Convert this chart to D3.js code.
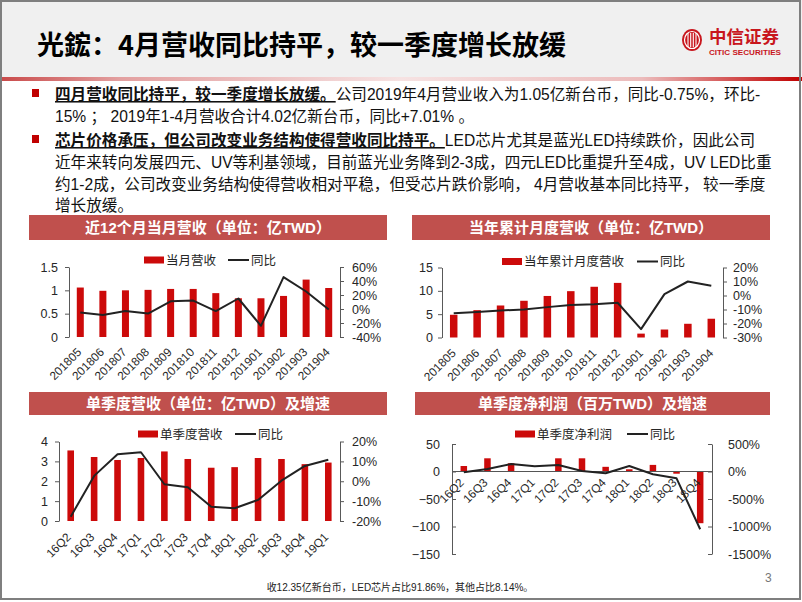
<!DOCTYPE html>
<html><head><meta charset="utf-8">
<script src="https://cdn.jsdelivr.net/npm/d3@7"></script>
<style>
body{margin:0;background:#fff}
svg{display:block}
text{font-family:"Liberation Sans",Arial,"Noto Sans CJK SC",sans-serif}
</style>
</head><body>
<svg id="c" width="802" height="602"></svg>
<script>
// ---------------- DATA ----------------
const monthCats = ["201805","201806","201807","201808","201809","201810","201811","201812","201901","201902","201903","201904"];
const monthRevenue = [1.06,0.99,1.00,1.01,1.03,1.03,0.94,0.83,0.83,0.88,1.23,1.05];
const monthYoY = [-5,-8.5,-3,-6.5,11,12,-3,15,-24,45.5,25,-0.75];

const cumRevenue = [4.87,5.86,6.86,7.87,8.90,9.93,10.87,11.70,0.83,1.71,2.94,4.02];
const cumYoY = [-12.6,-11.7,-10.7,-10,-8.3,-6.7,-6.2,-5.2,-24,1,10,7.01];

const quarterCats = ["16Q2","16Q3","16Q4","17Q1","17Q2","17Q3","17Q4","18Q1","18Q2","18Q3","18Q4","19Q1"];
const quarterRevenue = [3.55,3.22,3.07,3.17,3.50,3.12,2.68,2.71,3.17,3.12,2.86,2.94];
const quarterYoY = [-17.8,2.7,13.6,14.6,-1.5,-3,-12.8,-13.6,-9.4,0.3,7.7,10.8];

const profitCats = ["16Q2","16Q3","16Q4","17Q1","17Q2","17Q3","17Q4","18Q1","18Q2","18Q3","18Q4"];
const quarterProfit = [10,24,15,0.5,24,24,8.5,4,12,-4,-94];
const profitYoY = [-15,45,136,95,118,9,-33,100,-51,-124,-1050];

const c1LeftTicks = [0,0.5,1,1.5], c1RightTicks = [-40,-20,0,20,40,60];
const c2LeftTicks = [0,5,10,15], c2RightTicks = [-30,-20,-10,0,10,20];
const c3LeftTicks = [0,1,2,3,4], c3RightTicks = [-20,-10,0,10,20];
const c4LeftTicks = [-150,-100,-50,0,50], c4RightTicks = [-1500,-1000,-500,0,500];

// ---------------- STYLE ----------------
const RED = "#cc0a0a", TITLEBAR = "#c0504d", LINEC = "#222", AXISC = "#595959", TXT = "#262626";

const svg = d3.select("#c");
const defs = svg.append("defs");

// slide background / header
const hg = defs.append("linearGradient").attr("id","hline");
[[0,"#c94a4a"],[0.15,"#e3a0a0"],[0.5,"#f6e2e2"],[0.8,"#ecbcbc"],[1,"#c00000"]]
  .forEach(s=>hg.append("stop").attr("offset",s[0]).attr("stop-color",s[1]));
svg.append("rect").attr("x",0).attr("y",0).attr("width",802).attr("height",77).attr("fill","#f0f0f0");
svg.append("rect").attr("x",0).attr("y",77).attr("width",802).attr("height",4).attr("fill","url(#hline)");

svg.append("text").attr("x",37).attr("y",55).attr("font-size",27).attr("font-weight","bold")
  .attr("fill","#000").style("font-family","'Noto Sans CJK SC','Liberation Sans',sans-serif")
  .text("光鋐：4月营收同比持平，较一季度增长放缓");

// logo
const logo = svg.append("g");
logo.append("ellipse").attr("cx",692).attr("cy",40).attr("rx",10).attr("ry",11).attr("fill","#c8161d");
logo.append("ellipse").attr("cx",692).attr("cy",40).attr("rx",7.5).attr("ry",8.5).attr("fill","none").attr("stroke","#fff").attr("stroke-width",1.2);
[-4,-1.3,1.3,4].forEach(dx=>logo.append("line").attr("x1",692+dx).attr("x2",692+dx).attr("y1",33).attr("y2",47).attr("stroke","#fff").attr("stroke-width",1.1));
logo.append("text").attr("x",709).attr("y",43).attr("font-size",17.5).attr("font-weight","bold").attr("fill","#c8161d")
  .style("font-family","'Noto Sans CJK SC',sans-serif").text("中信证券");
logo.append("text").attr("x",709).attr("y",55).attr("font-size",7.5).attr("font-weight","bold").attr("fill","#c8161d")
  .attr("textLength",72).attr("lengthAdjust","spacingAndGlyphs").text("CITIC SECURITIES");

// body text
const bodyLines = [
  {y:100, parts:[["四月营收同比持平，较一季度增长放缓。",true],["公司2019年4月营业收入为1.05亿新台币，同比-0.75%，环比-",false]], bullet:true},
  {y:122, parts:[["15% ； 2019年1-4月营收合计4.02亿新台币，同比+7.01% 。",false]]},
  {y:146, parts:[["芯片价格承压，但公司改变业务结构使得营收同比持平。",true],["LED芯片尤其是蓝光LED持续跌价，因此公司",false]], bullet:true},
  {y:168, parts:[["近年来转向发展四元、UV等利基领域，目前蓝光业务降到2-3成，四元LED比重提升至4成，UV LED比重",false]]},
  {y:190, parts:[["约1-2成，公司改变业务结构使得营收相对平稳，但受芯片跌价影响， 4月营收基本同比持平， 较一季度",false]]},
  {y:211, parts:[["增长放缓。",false]]}
];
bodyLines.forEach(l=>{
  if(l.bullet) svg.append("rect").attr("x",32).attr("y",l.y-11).attr("width",7).attr("height",8).attr("fill","#c00000");
  const t = svg.append("text").attr("x",55).attr("y",l.y).attr("font-size",15.6).attr("fill","#111");
  l.parts.forEach(p=>{
    const ts = t.append("tspan").text(p[0]);
    if(p[1]) ts.attr("font-weight","bold").style("text-decoration","underline");
  });
});

// footer
svg.append("text").attr("x",400).attr("y",591).attr("text-anchor","middle").attr("font-size",10).attr("fill","#222")
  .text("收12.35亿新台币，LED芯片占比91.86%，其他占比8.14%。");
svg.append("text").attr("x",765).attr("y",582).attr("font-size",12).attr("fill","#777").text("3");

// ---------------- CHART FUNCTION ----------------
function drawChart(o){
  const g = svg.append("g");
  g.append("rect").attr("x",o.tb[0]).attr("y",o.tb[1]).attr("width",o.tb[2]-o.tb[0]).attr("height",o.tb[3]-o.tb[1]).attr("fill",TITLEBAR);
  g.append("text").attr("x",(o.tb[0]+o.tb[2])/2).attr("y",(o.tb[1]+o.tb[3])/2).attr("dy","0.36em")
    .attr("text-anchor","middle").attr("font-size",15).attr("font-weight","bold").attr("fill","#fff")
    .style("font-family","'Liberation Sans','Noto Sans CJK SC',sans-serif").text(o.title);

  const x = d3.scaleBand().domain(o.cats).range([o.x0,o.x1]);
  const yL = d3.scaleLinear().domain(o.leftDom).range([o.yBot,o.yTop]);
  const yR = d3.scaleLinear().domain(o.rightDom).range([o.yBot,o.yTop]);
  const cx = c => x(c)+x.bandwidth()/2;

  g.selectAll(null).data(o.cats).enter().append("rect")
    .attr("x",(c)=>cx(c)-o.barW/2).attr("width",o.barW)
    .attr("y",(c,i)=>Math.min(yL(o.bars[i]),yL(0)))
    .attr("height",(c,i)=>Math.abs(yL(o.bars[i])-yL(0)))
    .attr("fill",RED);

  if(o.leftDom[0]<0){
    g.append("line").attr("x1",o.x0).attr("x2",o.x1).attr("y1",yL(0)).attr("y2",yL(0)).attr("stroke","#555").attr("stroke-width",1.2);
  }

  const ts = o.inward ? -4 : 4;
  const la = g.append("g").attr("transform",`translate(${o.x0},0)`)
    .call(d3.axisLeft(yL).tickValues(o.lt).tickSizeInner(ts).tickSizeOuter(0).tickPadding(o.lpad).tickFormat(d3.format("")));
  const ra = g.append("g").attr("transform",`translate(${o.x1},0)`)
    .call(d3.axisRight(yR).tickValues(o.rt).tickSizeInner(ts).tickSizeOuter(0).tickPadding(o.rpad).tickFormat(d=>d+"%"));
  [la,ra].forEach(a=>{
    a.selectAll("path,line").attr("stroke",AXISC);
    a.selectAll("text").attr("font-size",12.5).attr("fill",TXT).style("font-family","'Liberation Sans',Arial,sans-serif");
  });

  g.append("path").datum(o.line)
    .attr("d",d3.line().x((d,i)=>cx(o.cats[i])).y(d=>yR(d)))
    .attr("fill","none").attr("stroke",LINEC).attr("stroke-width",2).attr("stroke-linejoin","round");

  g.selectAll(null).data(o.cats).enter().append("text")
    .attr("transform",c=>`translate(${cx(c)+o.labDx},${o.labY}) rotate(-45)`)
    .attr("text-anchor","end").attr("dy","0.35em").attr("font-size",11.8).attr("fill",TXT)
    .text(c=>c);

  const lg = g.append("g");
  lg.append("rect").attr("x",o.leg[0]).attr("y",o.legY-3.5).attr("width",20).attr("height",7).attr("fill",RED);
  lg.append("text").attr("x",o.leg[0]+22).attr("y",o.legY).attr("dy","0.36em").attr("font-size",12.5).attr("fill",TXT)
    .style("font-family","'Noto Sans CJK SC',sans-serif").text(o.barName);
  lg.append("line").attr("x1",o.leg[1]).attr("x2",o.leg[1]+21).attr("y1",o.legY).attr("y2",o.legY).attr("stroke",LINEC).attr("stroke-width",2);
  lg.append("text").attr("x",o.leg[1]+23).attr("y",o.legY).attr("dy","0.36em").attr("font-size",12.5).attr("fill",TXT)
    .style("font-family","'Noto Sans CJK SC',sans-serif").text("同比");
}

drawChart({title:"近12个月当月营收（单位：亿TWD）", tb:[29,215,387,240],
  cats:monthCats, bars:monthRevenue, line:monthYoY,
  x0:69, x1:340, yTop:267, yBot:337, leftDom:[0,1.5], rightDom:[-40,60], lt:c1LeftTicks, rt:c1RightTicks,
  lpad:7, rpad:8, barW:7, labY:350, labDx:-1, leg:[144,228], legY:260, barName:"当月营收"});

drawChart({title:"当年累计月度营收（单位：亿TWD）", tb:[412,215,770,240],
  cats:monthCats, bars:cumRevenue, line:cumYoY,
  x0:442, x1:723, yTop:267.5, yBot:337.5, leftDom:[0,15], rightDom:[-30,20], lt:c2LeftTicks, rt:c2RightTicks,
  lpad:5, rpad:6, barW:7.5, labY:351, labDx:0, leg:[502,637], legY:261.5, barName:"当年累计月度营收"});

drawChart({title:"单季度营收（单位：亿TWD）及增速", tb:[29,392,387,415],
  cats:quarterCats, bars:quarterRevenue, line:quarterYoY,
  x0:59, x1:340, yTop:441.5, yBot:521, leftDom:[0,4], rightDom:[-20,20], lt:c3LeftTicks, rt:c3RightTicks,
  lpad:7, rpad:8, barW:6.6, labY:535, labDx:-2, leg:[138,235], legY:434, barName:"单季度营收"});

drawChart({title:"单季度净利润（百万TWD）及增速", tb:[415,392,770,415],
  cats:profitCats, bars:quarterProfit, line:profitYoY,
  x0:452, x1:712, yTop:444, yBot:554, leftDom:[-150,50], rightDom:[-1500,500], lt:c4LeftTicks, rt:c4RightTicks,
  inward:true, lpad:12, rpad:16, barW:6.5, labY:480.5, labDx:-2, leg:[515,627], legY:434, barName:"单季度净利润"});

svg.append("rect").attr("x",1).attr("y",1).attr("width",799).attr("height",598).attr("fill","none").attr("stroke","#7f7f7f").attr("stroke-width",2);
</script>
</body></html>
